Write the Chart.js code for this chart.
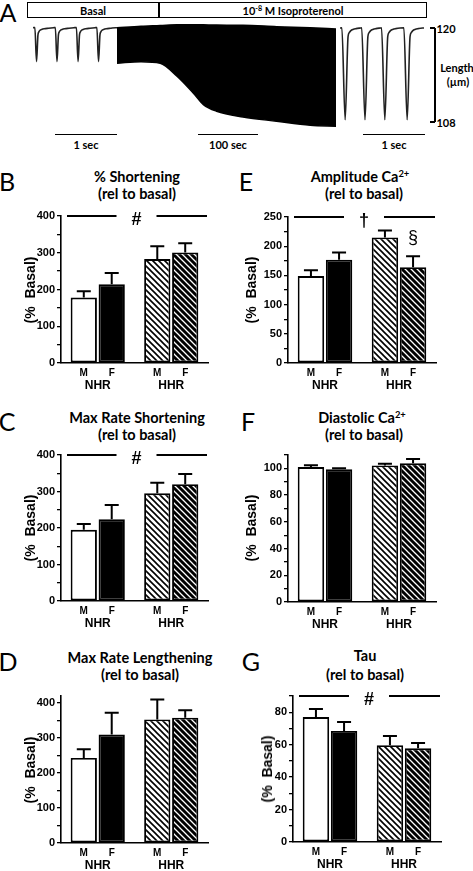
<!DOCTYPE html>
<html><head><meta charset="utf-8">
<script src="https://cdn.jsdelivr.net/npm/chart.js@4.4.0/dist/chart.umd.min.js"></script>
<style>
html,body{margin:0;padding:0;background:#fff;}
#fig{position:relative;width:473px;height:871px;overflow:hidden;font-family:"Liberation Sans",Arial,sans-serif;}
canvas{position:absolute;}
.t{position:absolute;white-space:nowrap;transform:translate(-50%,-50%);line-height:1;color:#000;}
.cal{font-family:Lato,"Open Sans",sans-serif;font-weight:bold;}
.ttl{font-family:Lato,"Open Sans",sans-serif;font-weight:bold;font-size:14.5px;}
.let{font-family:Lato,sans-serif;font-size:25px;font-weight:normal;}
.ytl{font-family:"Liberation Sans",Arial,sans-serif;font-weight:bold;font-size:14px;transform:translate(-50%,-50%) rotate(-90deg);}
.box{position:absolute;border:1.5px solid #000;box-sizing:border-box;}
.ln{position:absolute;background:#000;}
sup{font-size:65%;line-height:0;vertical-align:0.55em;}
</style></head>
<body><div id="fig"></div>
<script>
// ---------- DATA ----------
const groups = ['NHR', 'HHR'];
const sexes = ['M', 'F'];

// B: % Shortening (rel to basal)
const shortM = [178, 283], shortF = [214, 301];
const shortErrM = [17, 35], shortErrF = [31, 25];
// C: Max Rate Shortening
const mrsM = [195, 295], mrsF = [224, 320];
const mrsErrM = [16, 29], mrsErrF = [39, 28];
// D: Max Rate Lengthening
const mrlM = [243, 353], mrlF = [310, 358];
const mrlErrM = [25, 57], mrlErrF = [62, 21];
// E: Amplitude Ca2+
const ampM = [149, 215], ampF = [177, 164];
const ampErrM = [10, 12], ampErrF = [12, 19];
// F: Diastolic Ca2+
const diaM = [101, 102.2], diaF = [99.3, 103.8];
const diaErrM = [1.3, 1.3], diaErrF = [0.7, 3.3];
// G: Tau
const tauM = [77, 59.7], tauF = [68.5, 57.8];
const tauErrM = [5, 5.7], tauErrF = [5.5, 3.2];

// axis maxima / tick steps
const axisMax = {B: 400, C: 400, D: 420, E: 250, F: 110, G: 90};
const minorStep = {B: 50, C: 50, D: 50, E: 25, F: 10, G: 10};
const majorStep = {B: 100, C: 100, D: 100, E: 50, F: 20, G: 20};

// A: length traces (um), time in seconds
const basalOnsets = [0.03, 0.36, 0.70, 1.03];
const basalBeatT = [0, 0.027, 0.05, 0.065, 0.085, 0.11, 0.15, 0.22, 0.30];
const basalBeatL = [120.05, 115.7, 119.1, 119.5, 119.7, 119.8, 119.88, 119.95, 120.02];
const isoOnsets = [0.03, 0.35, 0.67, 1.03];
const isoBeatT = [0, 0.053, 0.10, 0.12, 0.145, 0.18, 0.23, 0.30];
const isoBeatL = [120.0, 108.3, 118.9, 119.4, 119.65, 119.8, 119.9, 119.98];
const envTime = [0, 40, 72, 100, 127, 144, 166, 210, 266, 322, 365];
const envTop = [120.0, 120.2, 120.3, 120.4, 120.4, 120.38, 120.35, 120.33, 120.15, 120.0, 119.86];
const envBottom = [115.5, 115.7, 115.5, 113.84, 111.71, 110.23, 109.39, 108.66, 108.11, 107.6, 107.48];

// ---------- HELPERS ----------
const fig = document.getElementById('fig');
function txt(x, y, html, cls, extra) {
  const d = document.createElement('div');
  d.className = 't ' + (cls || '');
  d.style.left = x + 'px'; d.style.top = y + 'px';
  if (extra) Object.assign(d.style, extra);
  d.innerHTML = html; fig.appendChild(d); return d;
}
function rect(x, y, w, h, cls) {
  const d = document.createElement('div');
  d.className = cls || 'ln';
  Object.assign(d.style, {left: x + 'px', top: y + 'px', width: w + 'px', height: h + 'px'});
  fig.appendChild(d);
}
function mkCanvas(l, t, w, h) {
  const c = document.createElement('canvas');
  c.width = w; c.height = h; c.style.left = l + 'px'; c.style.top = t + 'px';
  c.style.width = w + 'px'; c.style.height = h + 'px';
  fig.appendChild(c); return c;
}
function hatch(bg, fg, lw) {
  const s = 6, c = document.createElement('canvas'); c.width = c.height = s;
  const g = c.getContext('2d');
  g.fillStyle = bg; g.fillRect(0, 0, s, s);
  g.strokeStyle = fg; g.lineWidth = lw;
  g.beginPath();
  g.moveTo(-1, -1); g.lineTo(s + 1, s + 1);
  g.moveTo(s - 2, -2); g.lineTo(s + 2, 2);
  g.moveTo(-2, s - 2); g.lineTo(2, s + 2);
  g.stroke();
  return g.createPattern(c, 'repeat');
}
const hatchM = hatch('#fff', '#000', 1.6);
const hatchF = hatch('#000', '#fff', 1.3);

// ---------- PANEL A ----------
function beatSeries(onsets, bt, bl, tEnd) {
  const pts = [{x: 0, y: bl[bl.length - 1]}];
  onsets.forEach(on => bt.forEach((t, i) => pts.push({x: on + t, y: bl[i]})));
  pts.push({x: tEnd, y: bl[bl.length - 1]});
  return pts;
}
const A_TOP = 20, A_H = 110, A_MIN = 107, A_MAX = 121;
function traceChart(l, w, xmax, datasets) {
  const c = mkCanvas(l, A_TOP, w, A_H);
  new Chart(c, {
    type: 'line',
    data: {datasets},
    options: {
      responsive: false, animation: false, devicePixelRatio: 1,
      layout: {padding: 0},
      plugins: {legend: {display: false}, tooltip: {enabled: false}},
      elements: {point: {radius: 0}},
      scales: {
        x: {type: 'linear', min: 0, max: xmax, display: false},
        y: {min: A_MIN, max: A_MAX, display: false}
      }
    }
  });
}
traceChart(33, 84, 84 / 62, [{
  data: beatSeries(basalOnsets, basalBeatT, basalBeatL, 84 / 62),
  borderColor: '#222', borderWidth: 1.6, cubicInterpolationMode: 'monotone', clip: false
}]);
traceChart(340, 84, 84 / 62, [{
  data: beatSeries(isoOnsets, isoBeatT, isoBeatL, 84 / 62),
  borderColor: '#222', borderWidth: 1.6, cubicInterpolationMode: 'monotone', clip: false
}]);
traceChart(117, 220, 220 / 0.6, [
  {data: envTime.map((t, i) => ({x: t, y: envTop[i]})), borderColor: '#000', borderWidth: 1.5,
   backgroundColor: '#000', fill: '+1', cubicInterpolationMode: 'monotone', clip: false},
  {data: envTime.map((t, i) => ({x: t, y: envBottom[i]})), borderColor: '#000', borderWidth: 1.5,
   fill: false, cubicInterpolationMode: 'monotone', clip: false}
]);

// header box
rect(27, 2, 400, 16, 'box');
rect(158, 2, 1.5, 16);
txt(93, 10, 'Basal', 'cal', {fontSize: '11px'});
txt(293, 10, '10<sup>-8</sup> M Isoproterenol', 'cal', {fontSize: '11px'});
txt(8, 12, 'A', 'let');
// length scale
rect(434, 28, 1.5, 94);
rect(430, 27.3, 5, 1.5);
rect(430, 121.3, 5, 1.5);
txt(446, 28, '120', 'cal', {fontSize: '11px'});
txt(446, 122, '108', 'cal', {fontSize: '11px'});
txt(457, 67, 'Length', 'cal', {fontSize: '11px'});
txt(458, 81, '(\u00b5m)', 'cal', {fontSize: '11px'});
// time scale bars
rect(55, 133.5, 62, 1.5);
rect(198, 133.5, 60, 1.5);
rect(363, 133.5, 62, 1.5);
txt(86, 144, '1 sec', 'cal', {fontSize: '11px'});
txt(228, 144, '100 sec', 'cal', {fontSize: '11px'});
txt(394, 144, '1 sec', 'cal', {fontSize: '11px'});

// ---------- BAR PANELS ----------
const deco = {
  id: 'deco',
  afterDraw(chart) {
    const {ctx, chartArea: a, scales: {x, y}} = chart;
    const o = chart.options.plugins.deco;
    ctx.save();
    ctx.strokeStyle = '#000'; ctx.fillStyle = '#000';
    ctx.textAlign = 'center'; ctx.textBaseline = 'middle';
    ctx.font = 'bold 10px "Liberation Sans", Arial, sans-serif';
    chart.data.datasets.forEach((ds, di) => {
      const meta = chart.getDatasetMeta(di);
      meta.data.forEach((bar, j) => {
        const top = y.getPixelForValue(ds.data[j] + ds.err[j]);
        ctx.lineWidth = 2;
        ctx.beginPath();
        ctx.moveTo(bar.x, bar.y); ctx.lineTo(bar.x, top);
        ctx.moveTo(bar.x - 7, top); ctx.lineTo(bar.x + 7, top);
        ctx.stroke();
        ctx.fillText(sexes[di], bar.x, a.bottom + 10);
        if (o.sect && di === 1 && j === 1) {
          ctx.save(); ctx.font = '18px "Liberation Sans", Arial, sans-serif';
          ctx.fillText('\u00a7', bar.x, top - 18); ctx.restore();
        }
      });
    });
    ctx.font = 'bold 12px "Liberation Sans", Arial, sans-serif';
    groups.forEach((g, i) => ctx.fillText(g, x.getPixelForValue(i), a.bottom + 23));
    if (o.sig) {
      const mid = (x.getPixelForValue(0) + x.getPixelForValue(1)) / 2;
      ctx.lineWidth = 2;
      ctx.beginPath();
      ctx.moveTo(a.left + 6, a.top); ctx.lineTo(mid - 18, a.top);
      ctx.moveTo(mid + 22, a.top); ctx.lineTo(a.right - 1, a.top);
      ctx.stroke();
      ctx.font = 'bold 18px "Liberation Sans", Arial, sans-serif';
      ctx.fillText(o.sig, mid + 2, a.top + 4);
    }
    ctx.restore();
  }
};

const YW = 55, PT = 12, PR = 6, PB = 30;
function barPanel(p) {
  const w = p.right - p.left + YW + PR, h = p.bottom - p.top + PT + PB;
  const c = mkCanvas(p.left - YW, p.top - PT, w, h);
  new Chart(c, {
    type: 'bar',
    data: {
      labels: groups,
      datasets: [
        {data: p.m, err: p.em, backgroundColor: ['#fff', hatchM], borderColor: '#000', borderWidth: 1.9,
         borderSkipped: false, categoryPercentage: 0.76, barPercentage: 0.94},
        {data: p.f, err: p.ef, backgroundColor: ['#000', hatchF], borderColor: '#000', borderWidth: 1.9,
         borderSkipped: false, categoryPercentage: 0.76, barPercentage: 0.94}
      ]
    },
    options: {
      responsive: false, animation: false, devicePixelRatio: 1,
      layout: {padding: {left: 0, top: PT, right: PR, bottom: PB}},
      plugins: {legend: {display: false}, tooltip: {enabled: false}, deco: {sig: p.sig, sect: p.sect}},
      scales: {
        x: {
          grid: {display: false, drawTicks: false}, ticks: {display: false},
          border: {display: true, color: '#000', width: 1.6},
          afterFit(s) { s.height = 0; s.paddingLeft = 0; s.paddingRight = 0; s.paddingTop = 0; s.paddingBottom = 0; }
        },
        y: {
          min: 0, max: p.max,
          grid: {drawOnChartArea: false, drawTicks: true, tickLength: 4, color: '#000', lineWidth: 1.3},
          border: {display: true, color: '#000', width: 1.6},
          ticks: {stepSize: p.minor, includeBounds: false, autoSkip: false, padding: 2, color: '#000',
                  font: {family: '"Liberation Sans", Arial, sans-serif', weight: 'bold', size: 11},
                  callback: v => (Math.abs(v % p.major) < 1e-6 ? String(v) : '')},
          afterFit(s) { s.width = YW; s.paddingTop = 0; s.paddingBottom = 0; s.paddingLeft = 0; s.paddingRight = 0; }
        }
      }
    },
    plugins: [deco]
  });
}

const L = {left: 61, right: 208}, R = {left: 288, right: 436}, RG = {left: 293, right: 441};
barPanel({...L, top: 216, bottom: 363, max: axisMax.B, minor: minorStep.B, major: majorStep.B,
  m: shortM, f: shortF, em: shortErrM, ef: shortErrF, sig: '#'});
barPanel({...L, top: 455, bottom: 601, max: axisMax.C, minor: minorStep.C, major: majorStep.C,
  m: mrsM, f: mrsF, em: mrsErrM, ef: mrsErrF, sig: '#'});
barPanel({...L, top: 696, bottom: 843, max: axisMax.D, minor: minorStep.D, major: majorStep.D,
  m: mrlM, f: mrlF, em: mrlErrM, ef: mrlErrF});
barPanel({...R, top: 217, bottom: 363, max: axisMax.E, minor: minorStep.E, major: majorStep.E,
  m: ampM, f: ampF, em: ampErrM, ef: ampErrF, sig: '\u2020', sect: true});
barPanel({...R, top: 455, bottom: 602, max: axisMax.F, minor: minorStep.F, major: majorStep.F,
  m: diaM, f: diaF, em: diaErrM, ef: diaErrF});
barPanel({...RG, top: 696, bottom: 842, max: axisMax.G, minor: minorStep.G, major: majorStep.G,
  m: tauM, f: tauF, em: tauErrM, ef: tauErrF, sig: '#'});

// panel letters, titles, y titles
txt(7, 181, 'B', 'let'); txt(246, 181, 'E', 'let');
txt(7, 421, 'C', 'let'); txt(248, 421, 'F', 'let');
txt(8, 661, 'D', 'let'); txt(251, 661, 'G', 'let');

txt(137, 177, '% Shortening', 'ttl'); txt(137, 194, '(rel to basal)', 'ttl');
txt(137, 418, 'Max Rate Shortening', 'ttl'); txt(137, 435, '(rel to basal)', 'ttl');
txt(140, 658, 'Max Rate Lengthening', 'ttl'); txt(140, 675, '(rel to basal)', 'ttl');
txt(360, 177, 'Amplitude Ca<sup>2+</sup>', 'ttl'); txt(364, 194, '(rel to basal)', 'ttl');
txt(362, 418, 'Diastolic Ca<sup>2+</sup>', 'ttl'); txt(364, 435, '(rel to basal)', 'ttl');
txt(365, 656, 'Tau', 'ttl'); txt(365, 675, '(rel to basal)', 'ttl');

txt(30, 290, '(%&nbsp; Basal)', 'ytl');
txt(30, 528, '(%&nbsp; Basal)', 'ytl');
txt(30, 770, '(%&nbsp; Basal)', 'ytl');
txt(251, 290, '(%&nbsp; Basal)', 'ytl');
txt(251, 528, '(%&nbsp; Basal)', 'ytl');
txt(267, 769, '(%&nbsp; Basal)', 'ytl');
</script>
</body></html>
